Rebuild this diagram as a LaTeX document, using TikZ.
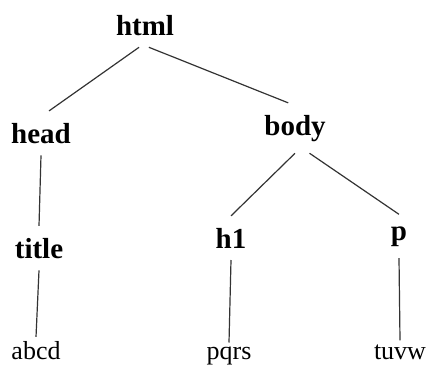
\documentclass[tikz,border=0pt]{standalone}
\usepackage{fontspec}
\setmainfont{Liberation Serif}
\usetikzlibrary{positioning}

\begin{document}
\begin{tikzpicture}
		[x=1pt, y=-1pt,
		 tag/.style={font=\fontsize{29}{34}\selectfont\bfseries, anchor=base, inner sep=0pt, outer sep=12pt},
		 leaf/.style={font=\fontsize{26}{30}\selectfont, anchor=base, inner sep=0pt, outer sep=4pt},
		 link/.style={draw=black!80, line width=1.2pt}]
		\useasboundingbox (0,0) rectangle (427,367);
		\node[tag] (html) at (145,35) {html};
		\node[tag] (head) at (41,143) {head};
		\node[tag] (body) at (295,135) {body};
		\node[tag] (title) at (39,258) {title};
		\node[tag] (h1) at (231,248) {h1};
		\node[tag] (p) at (399,240) {p};
		\node[leaf] (abcd) at (36,359) {abcd};
		\node[leaf] (pqrs) at (229,359) {pqrs};
		\node[leaf] (tuvw) at (400,359) {tuvw};

		\draw[link] (html.-105) to (head.70);
		\draw[link] (html.-80) to (body.105);
		\draw[link] (head.south) to (title.north);
		\draw[link] (title.south) to (abcd.north);
		\draw[link] (body.south) to (h1.north);
		\draw[link] (body.-60) to (p.north);
		\draw[link] (h1.south) to (pqrs.north);
		\draw[link] (p.south) to (tuvw.north);
	\end{tikzpicture}
\end{document}
